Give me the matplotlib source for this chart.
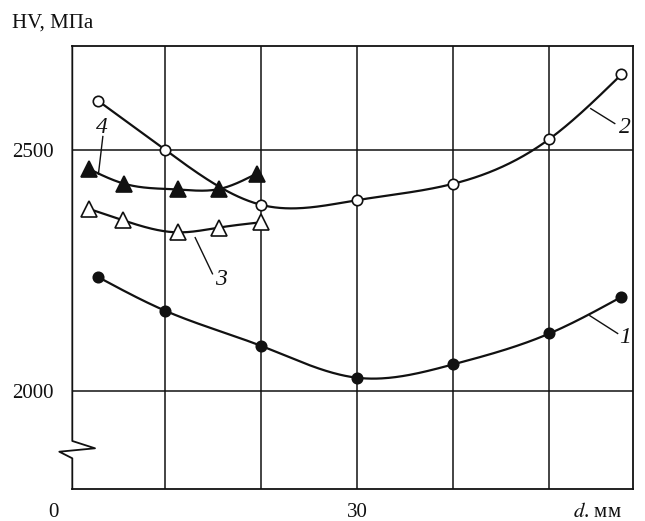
"""Hardness HV vs diameter d: four curves with spline fits."""

import numpy as np
import matplotlib

matplotlib.use("Agg")
import matplotlib.pyplot as plt

plt.rcParams["font.family"] = ["Liberation Serif", "DejaVu Serif"]
plt.rcParams["mathtext.fontset"] = "stix"

# data (d in mm, HV in MPa)
d_1 = [3.0, 10, 20, 30, 40, 50, 57.5]
hv_1 = [2236, 2166, 2093, 2027, 2055, 2119, 2195]

d_2 = [3.0, 10, 20, 30, 40, 50, 57.5]
hv_2 = [2602, 2500, 2386, 2396, 2430, 2523, 2657]

d_3 = [2.0, 5.6, 11.3, 15.6, 20.0]
hv_3 = [2378, 2354, 2329, 2339, 2350]

d_4 = [2.0, 5.7, 11.3, 15.6, 19.5]
hv_4 = [2461, 2430, 2418, 2419, 2451]

curve_labels = ["1", "2", "3", "4"]

INK = "#111111"
FS = 15


def natural_spline(x, y, n=300):
    x = np.asarray(x, float)
    y = np.asarray(y, float)
    h = np.diff(x)
    m = len(x)
    a = np.zeros((m, m))
    rhs = np.zeros(m)
    a[0, 0] = a[-1, -1] = 1.0
    for i in range(1, m - 1):
        a[i, i - 1] = h[i - 1]
        a[i, i] = 2 * (h[i - 1] + h[i])
        a[i, i + 1] = h[i]
        rhs[i] = 3 * ((y[i + 1] - y[i]) / h[i] - (y[i] - y[i - 1]) / h[i - 1])
    c = np.linalg.solve(a, rhs)
    b = (y[1:] - y[:-1]) / h - h * (2 * c[:-1] + c[1:]) / 3
    dd = (c[1:] - c[:-1]) / (3 * h)
    xs = np.linspace(x[0], x[-1], n)
    idx = np.clip(np.searchsorted(x, xs) - 1, 0, len(h) - 1)
    dx = xs - x[idx]
    ys = y[idx] + b[idx] * dx + c[idx] * dx**2 + dd[idx] * dx**3
    return xs, ys


fig = plt.figure(figsize=(6.45, 5.21), dpi=100)
ax = fig.add_axes([0.1121, 0.0614, 0.8693, 0.8503])

ax.set_xlim(0.3, 58.7)
ax.set_ylim(1796, 2716)

series = [
    (d_1, hv_1, "o", INK, 7.5),
    (d_2, hv_2, "o", "white", 7.5),
    (d_3, hv_3, "^", "white", 11),
    (d_4, hv_4, "^", INK, 11),
]
for xs, ys, marker, face, size in series:
    sx, sy = natural_spline(xs, ys)
    ax.plot(sx, sy, color=INK, lw=1.6, zorder=3)
    ax.plot(xs, ys, linestyle="none", marker=marker, ms=size,
            markerfacecolor=face, markeredgecolor=INK, markeredgewidth=1.2,
            zorder=4)

# curve labels with leader lines
label_pos = [(57.9, 2111), (57.9, 2547), (15.8, 2232), (3.4, 2546)]
leaders = [
    ((54.2, 57.1), (2156, 2119)),
    ((54.3, 56.8), (2586, 2555)),
    ((13.1, 14.9), (2318, 2243)),
    ((3.48, 3.02), (2528, 2450)),
]
for text, (tx, ty), (lx, ly) in zip(curve_labels, label_pos, leaders):
    ax.plot(lx, ly, color=INK, lw=1.0, zorder=3)
    ax.text(tx, ty, text, fontsize=17, style="italic", ha="center",
            va="center", color=INK)

ax.set_xticks([10, 20, 30, 40, 50])
ax.set_xticklabels([])
ax.set_yticks([2000, 2500])
ax.set_yticklabels(["2000", "2500"], fontsize=FS, color=INK)
ax.tick_params(length=0)
ax.tick_params(axis="y", pad=13.5)
ax.grid(True, color=INK, lw=1.1)
ax.set_axisbelow(True)

for name in ("top", "right", "bottom"):
    ax.spines[name].set_color(INK)
    ax.spines[name].set_linewidth(1.3)
ax.spines["left"].set_visible(False)

# left spine with a break mark
bx = [0, 0, 0.0405, -0.0232, 0, 0]
by = [1, 0.1084, 0.0919, 0.0842, 0.0693, 0]
ax.plot(bx, by, color=INK, lw=1.3, transform=ax.transAxes, clip_on=False,
        zorder=5)

xt = ax.get_xaxis_transform()
ax.text(-1.7, -0.054, "0", transform=xt, fontsize=FS, ha="center",
        va="center", color=INK)
ax.text(30, -0.054, "30", transform=xt, fontsize=FS, ha="center",
        va="center", color=INK)
ax.text(52.5, -0.054, r"$\mathit{d}$. мм", transform=xt, fontsize=FS,
        ha="left", va="center", color=INK)

fig.text(12 / 645, 1 - 23 / 521, "HV, МПа", fontsize=FS, ha="left",
         va="center", color=INK)

fig.savefig("out.png", dpi=100)
